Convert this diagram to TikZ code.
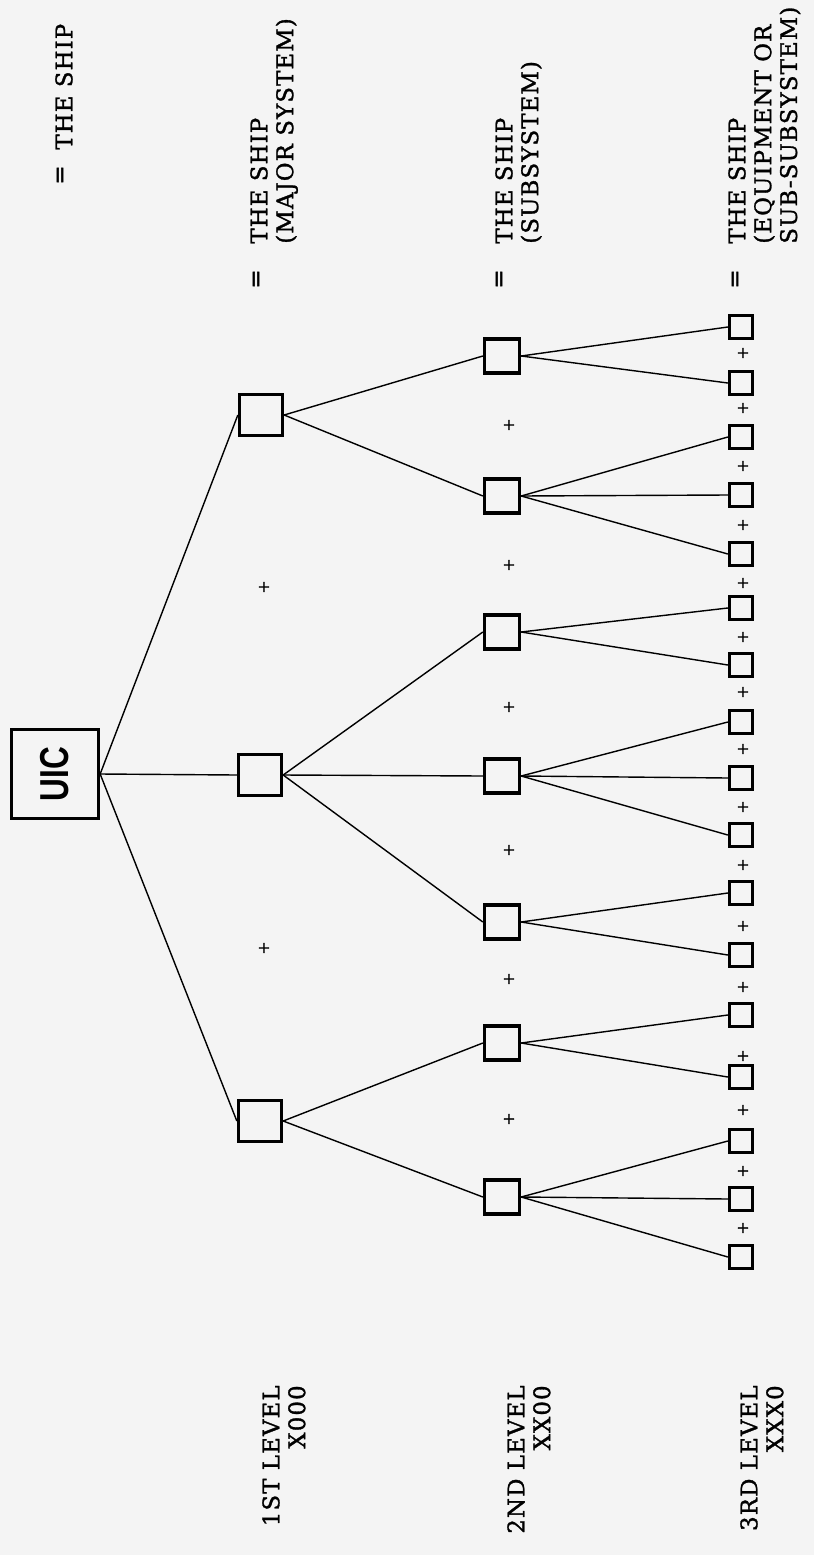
\documentclass[tikz,border=0pt]{standalone}
\usepackage{fontspec}
\setmainfont{DejaVu Serif}
\newfontfamily\uicfont{Liberation Sans}
\definecolor{paper}{RGB}{244,244,244}

\begin{document}
\begin{tikzpicture}[x=0.02cm, y=-0.02cm,
		box/.style={draw, line width=1.9pt, inner sep=0pt},
		lvlone/.style={box, minimum width=0.86cm, minimum height=0.82cm},
		lvltwo/.style={box, minimum width=0.70cm, minimum height=0.68cm},
		lvlthree/.style={box, minimum size=0.46cm},
		link/.style={line width=0.8pt},
		cross/.style={inner sep=0pt, font=\fontsize{9}{9}\selectfont\addfontfeature{FakeBold=1.5}},
		lbl/.style={rotate=90, inner sep=0pt, font=\fontsize{13}{14.7}\selectfont\addfontfeature{LetterSpace=5, FakeBold=1.3}}]

		\fill[paper] (0, 0) rectangle (814, 1555);

		\node[box, rotate=90, minimum width=1.78cm, minimum height=1.74cm,
			font=\uicfont\bfseries\fontsize{23}{23}\selectfont] (uic) at (55, 774) {\scalebox{0.78}[1]{UIC}};

		\node[lvlone] (a) at (261, 415) {};
		\node[lvlone] (b) at (260, 775) {};
		\node[lvlone] (c) at (260, 1121) {};

		\node[lvltwo] (a1) at (502, 356) {};
		\node[lvltwo] (a2) at (502, 496) {};
		\node[lvltwo] (b1) at (502, 632) {};
		\node[lvltwo] (b2) at (502, 776) {};
		\node[lvltwo] (b3) at (502, 922) {};
		\node[lvltwo] (c1) at (502, 1043) {};
		\node[lvltwo] (c2) at (502, 1197) {};

		\foreach \y [count=\i] in {327, 383, 437, 495, 554, 608, 665, 722, 778, 835, 893, 955, 1015, 1077, 1141, 1199, 1257}
			\node[lvlthree] (t\i) at (741, \y) {};

		\foreach \n in {a, b, c}
			\draw[link] (uic.south) -- (\n.west);
		\foreach \p/\c in {a/a1, a/a2, b/b1, b/b2, b/b3, c/c1, c/c2}
			\draw[link] (\p.east) -- (\c.west);
		\foreach \p/\c in {a1/1, a1/2, a2/3, a2/4, a2/5, b1/6, b1/7, b2/8, b2/9, b2/10, b3/11, b3/12, c1/13, c1/14, c2/15, c2/16, c2/17}
			\draw[link] (\p.east) -- (t\c.west);

		\node[cross] (pa) at (264, 587) {+};
		\node[cross] (pb) at (264, 948) {+};
		\foreach \y [count=\i] in {425, 565, 707, 850, 979, 1119}
			\node[cross] (q\i) at (509, \y) {+};
		\foreach \y [count=\i] in {353, 408, 466, 525, 583, 637, 692, 749, 807, 865, 926, 987, 1056, 1110, 1171, 1228}
			\node[cross] (r\i) at (743, \y) {+};

		\node[lbl, anchor=north west] (top0) at (55, 150) {THE SHIP};
		\node[lbl] (eq0) at (62, 175) {=};
		\node[lbl, anchor=north west, align=left] (top1) at (250, 244) {THE SHIP\\(MAJOR SYSTEM)};
		\node[lbl] (eq1) at (258, 279) {=};
		\node[lbl, anchor=north west, align=left] (top2) at (495, 244) {THE SHIP\\(SUBSYSTEM)};
		\node[lbl] (eq2) at (501, 279) {=};
		\node[lbl, anchor=north west, align=left] (top3) at (728, 244) {THE SHIP\\(EQUIPMENT OR\\SUB-SUBSYSTEM)};
		\node[lbl] (eq3) at (737, 279) {=};

		\node[lbl, anchor=north east, align=right] (lev1) at (262, 1385) {1ST LEVEL\\X000};
		\node[lbl, anchor=north east, align=right] (lev2) at (507, 1385) {2ND LEVEL\\XX00};
		\node[lbl, anchor=north east, align=right] (lev3) at (740, 1385) {3RD LEVEL\\XXX0};
	\end{tikzpicture}
\end{document}
